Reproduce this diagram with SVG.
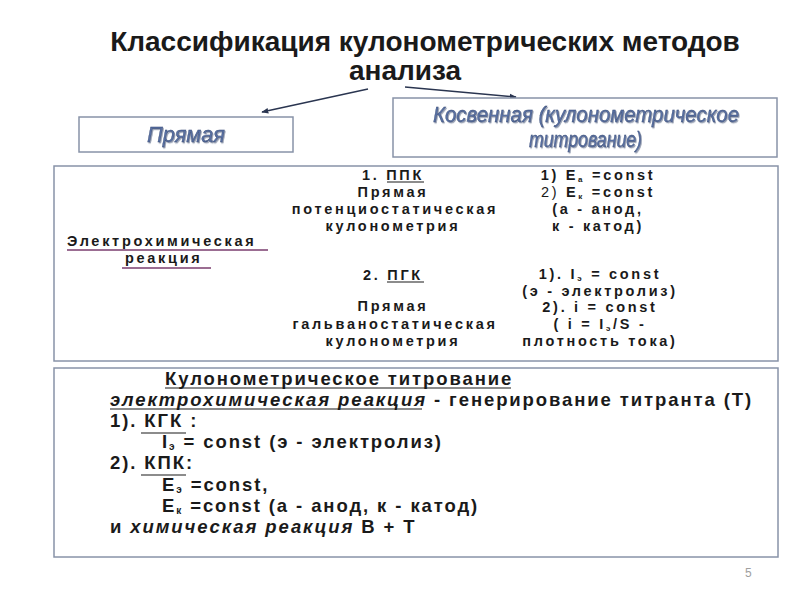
<svg xmlns="http://www.w3.org/2000/svg" width="800" height="600" viewBox="0 0 800 600">
<defs>
<marker id="ah" viewBox="0 0 10 10" refX="9" refY="5" markerWidth="7" markerHeight="7" orient="auto" markerUnits="userSpaceOnUse"><path d="M0,1 L10,5 L0,9 z" fill="#2a3550"/></marker>
<marker id="ap" viewBox="0 0 10 10" refX="9" refY="5" markerWidth="7" markerHeight="7" orient="auto" markerUnits="userSpaceOnUse"><path d="M0,1 L10,5 L0,9 z" fill="#7a3d6e"/></marker>
<filter id="sh" x="-5%" y="-20%" width="110%" height="150%"><feDropShadow dx="1" dy="1.2" stdDeviation="0.7" flood-color="#8a94aa" flood-opacity="0.9"/></filter>
</defs>
<style>
text{font-family:"Liberation Sans",Arial,sans-serif;fill:#1a1a1a}
.t{font-size:28px;font-weight:bold}
.box{fill:#fff;stroke:#8893a8;stroke-width:1.5}
.hd{font-style:italic;fill:#5870a3;stroke:#34466e;stroke-width:0.35}
.s{font-size:14.5px;font-weight:bold;letter-spacing:2.7px}
.m{font-size:18.5px;font-weight:bold;letter-spacing:1.9px}
.c{text-anchor:middle}
.u{stroke:#1a1a1a;stroke-width:1.2}
.up{stroke:#7a3d6e;stroke-width:1.3}
</style>
<rect width="800" height="600" fill="#fff"/>
<g id="title">
<text class="t c" x="425" y="51">Классификация кулонометрических методов</text>
<text class="t c" x="405" y="80">анализа</text>
</g>
<g id="connectors">
<line x1="368" y1="89" x2="262" y2="112" stroke="#2a3550" stroke-width="1.4" marker-end="url(#ah)"/>
<line x1="405" y1="87" x2="516" y2="97" stroke="#2a3550" stroke-width="1.4" marker-end="url(#ah)"/>
<line x1="138" y1="230" x2="339" y2="191" stroke="#7a3d6e" stroke-width="1.4" marker-end="url(#ap)"/>
<line x1="160" y1="274" x2="347" y2="274" stroke="#7a3d6e" stroke-width="1.4" marker-end="url(#ap)"/>
</g>
<g id="direct">
<rect class="box" x="79" y="117" width="214" height="35"/>
<text class="hd" x="147" y="142" font-size="22" textLength="78" lengthAdjust="spacingAndGlyphs" filter="url(#sh)">Прямая</text>
</g>
<g id="indirect">
<rect class="box" x="393" y="98" width="384" height="59"/>
<text class="hd" x="433" y="122" font-size="22" textLength="306" lengthAdjust="spacingAndGlyphs" filter="url(#sh)">Косвенная (кулонометрическое</text>
<text class="hd" x="529" y="147" font-size="22" textLength="113" lengthAdjust="spacingAndGlyphs" filter="url(#sh)">титрование)</text>
</g>
<g id="direct-methods">
<rect class="box" x="54" y="166" width="724" height="195"/>
<text class="s" x="67" y="246">Электрохимическая</text>
<line class="up" x1="67" y1="250" x2="268" y2="250"/>
<text class="s" x="125" y="263">реакция</text>
<line class="up" x1="122" y1="268" x2="211" y2="268"/>
<text class="s c" x="393" y="180">1. ППК</text>
<line class="u" x1="387" y1="182" x2="424" y2="182"/>
<text class="s c" x="393" y="197">Прямая</text>
<text class="s c" x="395" y="214">потенциостатическая</text>
<text class="s c" x="393" y="231">кулонометрия</text>
<text class="s c" x="393" y="280">2. ПГК</text>
<line class="u" x1="387" y1="282" x2="424" y2="282"/>
<text class="s c" x="393" y="311">Прямая</text>
<text class="s c" x="395" y="329">гальваностатическая</text>
<text class="s c" x="393" y="346">кулонометрия</text>
<text class="s c" x="598" y="180">1) E<tspan font-size="8" dy="1.5">а</tspan><tspan dy="-1.5"> =const</tspan></text>
<text class="s c" x="598" y="197"><tspan font-weight="normal">2)</tspan> E<tspan font-size="8" dy="1.5">к</tspan><tspan dy="-1.5"> =const</tspan></text>
<text class="s c" x="598" y="214">(а - анод,</text>
<text class="s c" x="598" y="231">к - катод)</text>
<text class="s c" x="600" y="279">1). I<tspan font-size="8" dy="1.5">э</tspan><tspan dy="-1.5"> = const</tspan></text>
<text class="s c" x="600" y="296">(э - электролиз)</text>
<text class="s c" x="600" y="312">2). i = const</text>
<text class="s c" x="600" y="329">( i = I<tspan font-size="8" dy="1.5">э</tspan><tspan dy="-1.5">/S -</tspan></text>
<text class="s c" x="600" y="346">плотность тока)</text>
</g>
<g id="titration">
<rect class="box" x="54" y="368" width="724" height="189"/>
<text class="m" x="165" y="385">Кулонометрическое титрование</text>
<line class="u" x1="165" y1="388" x2="511" y2="388"/>
<text class="m" x="110" y="406"><tspan font-style="italic">электрохимическая реакция</tspan> - генерирование титранта (Т)</text>
<line class="u" x1="110" y1="409" x2="422" y2="409"/>
<text class="m" x="110" y="427">1). КГК :</text>
<line class="u" x1="141" y1="433" x2="186" y2="433"/>
<text class="m" x="162" y="448">I<tspan font-size="10" dy="2">э</tspan><tspan dy="-2"> = const (э - электролиз)</tspan></text>
<text class="m" x="110" y="469">2). КПК:</text>
<line class="u" x1="141" y1="475" x2="186" y2="475"/>
<text class="m" x="162" y="491">E<tspan font-size="10" dy="2">э</tspan><tspan dy="-2"> =const,</tspan></text>
<text class="m" x="162" y="512">E<tspan font-size="10" dy="2">к</tspan><tspan dy="-2"> =const (а - анод, к - катод)</tspan></text>
<text class="m" x="110" y="533">и <tspan font-style="italic">химическая реакция</tspan> В + Т</text>
</g>
<text x="745" y="577" font-size="12" style="fill:#a0a0a0">5</text>
</svg>
